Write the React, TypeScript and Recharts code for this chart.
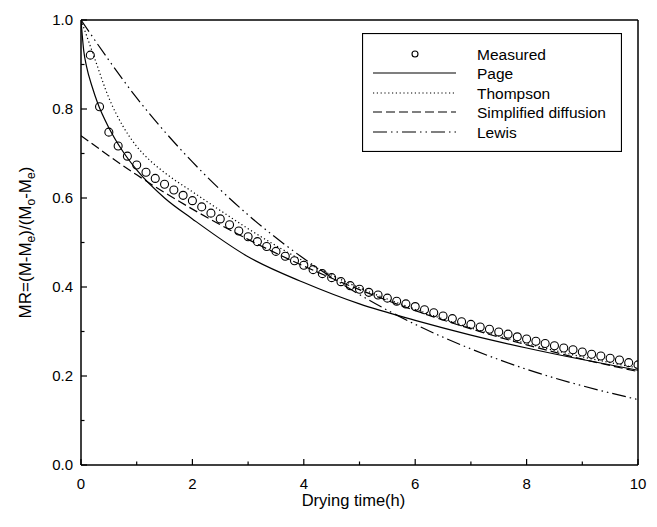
import React from 'react';
import { ComposedChart, Line, Scatter, XAxis, YAxis, ReferenceLine } from 'recharts';

// ---------- data ----------
const measuredTime = [
  0.167, 0.333, 0.5, 0.667, 0.833, 1, 1.167, 1.333, 1.5, 1.667, 1.833, 2,
  2.167, 2.333, 2.5, 2.667, 2.833, 3, 3.167, 3.333, 3.5, 3.667, 3.833, 4,
  4.167, 4.333, 4.5, 4.667, 4.833, 5, 5.167, 5.333, 5.5, 5.667, 5.833, 6,
  6.167, 6.333, 6.5, 6.667, 6.833, 7, 7.167, 7.333, 7.5, 7.667, 7.833, 8,
  8.167, 8.333, 8.5, 8.667, 8.833, 9, 9.167, 9.333, 9.5, 9.667, 9.833, 10,
];
const measuredMR = [
  0.921, 0.805, 0.748, 0.717, 0.694, 0.674, 0.658, 0.644, 0.631, 0.618, 0.606, 0.594,
  0.58, 0.566, 0.553, 0.54, 0.526, 0.513, 0.502, 0.491, 0.48, 0.469, 0.459, 0.449,
  0.439, 0.43, 0.421, 0.412, 0.403, 0.395, 0.388, 0.382, 0.375, 0.368, 0.362, 0.356,
  0.349, 0.342, 0.335, 0.329, 0.322, 0.316, 0.31, 0.305, 0.299, 0.294, 0.288, 0.283,
  0.278, 0.273, 0.268, 0.263, 0.259, 0.254, 0.249, 0.245, 0.24, 0.236, 0.23, 0.225,
];

const pageTime = [0, 0.05, 0.1, 0.2, 0.3, 0.5, 0.75, 1, 1.5, 2, 3, 4, 5, 6, 7, 8, 9, 10];
const pageMR = [1, 0.93, 0.895, 0.85, 0.813, 0.758, 0.705, 0.663, 0.6, 0.553, 0.468, 0.41, 0.362, 0.325, 0.292, 0.263, 0.237, 0.213];

const thompsonTime = [0, 0.1, 0.25, 0.5, 0.75, 1, 1.25, 1.5, 2, 2.5, 3, 3.5, 4, 5, 6, 7, 8, 9, 10];
const thompsonMR = [1, 0.965, 0.912, 0.825, 0.762, 0.716, 0.683, 0.657, 0.614, 0.572, 0.531, 0.493, 0.458, 0.398, 0.35, 0.308, 0.273, 0.243, 0.218];

const diffusionTime = [0, 1, 2, 3, 4, 5, 6, 7, 8, 9, 10];
const diffusionMR = [0.74, 0.652, 0.575, 0.507, 0.447, 0.394, 0.347, 0.306, 0.27, 0.238, 0.21];

const lewisTime = [0, 1, 2, 3, 4, 5, 6, 7, 8, 9, 10];
const lewisMR = [1, 0.825, 0.681, 0.562, 0.464, 0.383, 0.316, 0.261, 0.215, 0.178, 0.147];

const xTicks = [0, 1, 2, 3, 4, 5, 6, 7, 8, 9, 10];
const yTicks = [0, 0.1, 0.2, 0.3, 0.4, 0.5, 0.6, 0.7, 0.8, 0.9, 1.0];

const legendNames = ['Measured', 'Page', 'Thompson', 'Simplified diffusion', 'Lewis'];

// ---------- helpers ----------
const zip = (ts: number[], vs: number[]) => ts.map((t, i) => ({ t, v: vs[i] }));
const measuredData = zip(measuredTime, measuredMR);
const pageData = zip(pageTime, pageMR);
const thompsonData = zip(thompsonTime, thompsonMR);
const diffusionData = zip(diffusionTime, diffusionMR);
const lewisData = zip(lewisTime, lewisMR);

const FONT = '"Liberation Sans", Arial, sans-serif';
const DOTTED = '1.2 2.6';
const DASHED = '9 4';
const DASHDOT = '14 4 1.5 4 1.5 4';

const X_MARGIN = 13;
const Y_MARGIN = 8;

const XTick = (props: any) => {
  const { x, y, payload } = props;
  const axisY = y - X_MARGIN;
  const major = Math.round(payload.value) % 2 === 0;
  return (
    <g>
      <line x1={x} x2={x} y1={axisY} y2={axisY - (major ? 6 : 3.5)} stroke="#000" strokeWidth={1.2} />
      {major && (
        <text x={x} y={y} dy="0.71em" textAnchor="middle" fontSize={15} fontFamily={FONT} fill="#000">
          {payload.value}
        </text>
      )}
    </g>
  );
};

const YTick = (props: any) => {
  const { x, y, payload } = props;
  const axisX = x + Y_MARGIN;
  const major = Math.round(payload.value * 10) % 2 === 0;
  return (
    <g>
      <line x1={axisX} x2={axisX + (major ? 6 : 3.5)} y1={y} y2={y} stroke="#000" strokeWidth={1.2} />
      {major && (
        <text x={x} y={y} dy="0.355em" textAnchor="end" fontSize={15} fontFamily={FONT} fill="#000">
          {Number(payload.value).toFixed(1)}
        </text>
      )}
    </g>
  );
};

const XTitle = (props: any) => {
  const vb = props.viewBox || {};
  return (
    <text x={vb.x + vb.width / 2 - 6} y={vb.y + 41} textAnchor="middle" fontSize={16.5} fontFamily={FONT} fill="#000">
      Drying time(h)
    </text>
  );
};

const YTitle = (props: any) => {
  const vb = props.viewBox || {};
  const cx = vb.x + 23;
  const cy = vb.y + vb.height / 2;
  return (
    <text
      x={cx}
      y={cy}
      transform={`rotate(-90, ${cx}, ${cy})`}
      textAnchor="middle"
      fontSize={17}
      fontFamily={FONT}
      fill="#000"
    >
      MR=(M-M<tspan dy={4} fontSize={12}>e</tspan>
      <tspan dy={-4}>)/(M</tspan>
      <tspan dy={4} fontSize={12}>o</tspan>
      <tspan dy={-4}>-M</tspan>
      <tspan dy={4} fontSize={12}>e</tspan>
      <tspan dy={-4}>)</tspan>
    </text>
  );
};

const LegendBox = () => {
  const rows = [21, 40, 60, 79, 99];
  const styles = [null, undefined, DOTTED, DASHED, DASHDOT];
  return (
    <svg width={260} height={119} style={{ display: 'block' }}>
      <rect x={0.5} y={0.5} width={259} height={118} fill="#fff" stroke="#000" strokeWidth={1.2} />
      {legendNames.map((name, i) => (
        <g key={name}>
          {i === 0 ? (
            <circle cx={53} cy={rows[i]} r={3} fill="none" stroke="#000" strokeWidth={1.1} />
          ) : (
            <line
              x1={11}
              x2={94}
              y1={rows[i]}
              y2={rows[i]}
              stroke="#000"
              strokeWidth={1.2}
              strokeDasharray={styles[i] || undefined}
            />
          )}
          <text x={115} y={rows[i]} dy="0.355em" fontSize={15.5} fontFamily={FONT} fill="#000">
            {name}
          </text>
        </g>
      ))}
    </svg>
  );
};

const CircleShape = (props: any) => (
  <circle cx={props.cx} cy={props.cy} r={4} fill="none" stroke="#000" strokeWidth={1.1} />
);

export default function App() {
  return (
    <div style={{ width: 649, height: 519, position: 'relative' }}>
      <ComposedChart width={649} height={519} margin={{ top: 12, right: 19, left: 0, bottom: 0 }}>
        <XAxis
          dataKey="t"
          type="number"
          domain={[0, 10]}
          ticks={xTicks}
          allowDataOverflow
          height={62}
          tickSize={0}
          tickMargin={X_MARGIN}
          tick={XTick}
          axisLine={{ stroke: '#000', strokeWidth: 1.5 }}
          label={XTitle}
        />
        <YAxis
          dataKey="v"
          type="number"
          domain={[0, 1]}
          ticks={yTicks}
          allowDataOverflow
          width={73}
          tickSize={0}
          tickMargin={Y_MARGIN}
          tick={YTick}
          axisLine={{ stroke: '#000', strokeWidth: 1.5 }}
          label={YTitle}
        />
        <ReferenceLine y={1} stroke="#000" strokeWidth={1.5} />
        <ReferenceLine x={10} stroke="#000" strokeWidth={1.5} />
        <Line data={pageData} dataKey="v" type="monotone" stroke="#000" strokeWidth={1.2} dot={false} isAnimationActive={false} />
        <Line data={thompsonData} dataKey="v" type="monotone" stroke="#000" strokeWidth={1.2} strokeDasharray={DOTTED} dot={false} isAnimationActive={false} />
        <Line data={diffusionData} dataKey="v" type="monotone" stroke="#000" strokeWidth={1.2} strokeDasharray={DASHED} dot={false} isAnimationActive={false} />
        <Line data={lewisData} dataKey="v" type="monotone" stroke="#000" strokeWidth={1.2} strokeDasharray={DASHDOT} dot={false} isAnimationActive={false} />
        <Scatter data={measuredData} dataKey="v" shape={CircleShape} isAnimationActive={false} />
      </ComposedChart>
      <div style={{ position: 'absolute', left: 354, top: 25, width: 260, height: 119 }}>
        <LegendBox />
      </div>
    </div>
  );
}
